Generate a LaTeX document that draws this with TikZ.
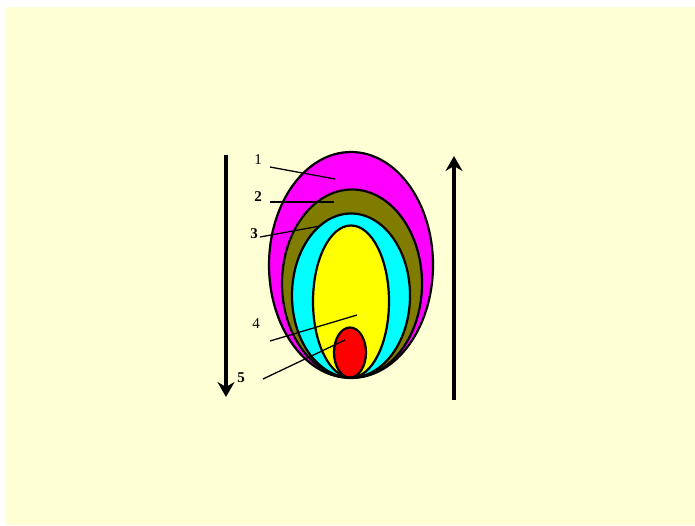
\documentclass[tikz,border=0pt]{standalone}
\usepackage{fontspec}
\setmainfont{Liberation Serif}
\usetikzlibrary{shapes.geometric,arrows.meta}
\definecolor{cream}{RGB}{255,255,214}
\definecolor{olivebr}{RGB}{128,124,0}
\definecolor{mag}{RGB}{255,0,255}
\definecolor{cyn}{RGB}{0,255,255}
\definecolor{yel}{RGB}{255,255,0}
\definecolor{rd}{RGB}{255,0,0}
\tikzset{
  layer/.style={ellipse, draw=black, line width=2.2pt, inner sep=0pt},
  lbl/.style={font=\fontsize{15}{15}\selectfont, inner sep=1pt},
  leader/.style={draw=black, line width=1.3pt},
  bigarrow/.style={line width=3.2pt, -{Stealth[length=15pt,width=17pt,inset=5pt]}}
}
\begin{document}
\begin{tikzpicture}[x=1pt,y=-1pt]
\useasboundingbox (0,0) rectangle (695,525);
\fill[white] (0,0) rectangle (695,525);
\fill[cream] (5,7) rectangle (695,525);
% layers
\node[layer, fill=mag, minimum width=164pt, minimum height=226pt] (m) at (351,265) {};
\node[layer, fill=olivebr, minimum width=140pt, minimum height=188pt] (o) at (352,283.5) {};
\node[layer, fill=cyn, minimum width=118pt, minimum height=164pt] (c) at (351,295.5) {};
\node[layer, fill=yel, minimum width=76pt, minimum height=152pt] (y) at (351,301.5) {};
\node[layer, fill=rd, minimum width=32pt, minimum height=50pt] (r) at (350,352.5) {};
% faint mark
\coordinate (f1) at (325,335);
\coordinate (f2) at (325,347);
\draw[line width=0.8pt, yel!40!white] (f1) -- (f2);
% labels
\node[lbl] (l1) at (258,160) {1};
\node[lbl] (l2) at (258,197) {\textbf{2}};
\node[lbl] (l3) at (254,234) {\textbf{3}};
\node[lbl] (l4) at (256,324) {4};
\node[lbl] (l5) at (241,378) {\textbf{5}};
\coordinate (s1) at (270,167); \coordinate (e1) at (335,179);
\coordinate (s2) at (270,202); \coordinate (e2) at (334,202);
\coordinate (s3) at (260,237); \coordinate (e3) at (320,226);
\coordinate (s4) at (270,341); \coordinate (e4) at (357,315);
\coordinate (s5) at (263,379); \coordinate (e5) at (345,340);
\draw[leader] (s1) -- (e1);
\draw[leader] (s2) -- (e2);
\draw[leader] (s3) -- (e3);
\draw[leader] (s4) -- (e4);
\draw[leader] (s5) -- (e5);
% arrows
\coordinate (a1) at (226,155); \coordinate (a2) at (226,397);
\coordinate (b1) at (454,400); \coordinate (b2) at (454,156);
\draw[bigarrow] (a1) -- (a2);
\draw[bigarrow] (b1) -- (b2);
\end{tikzpicture}
\end{document}
